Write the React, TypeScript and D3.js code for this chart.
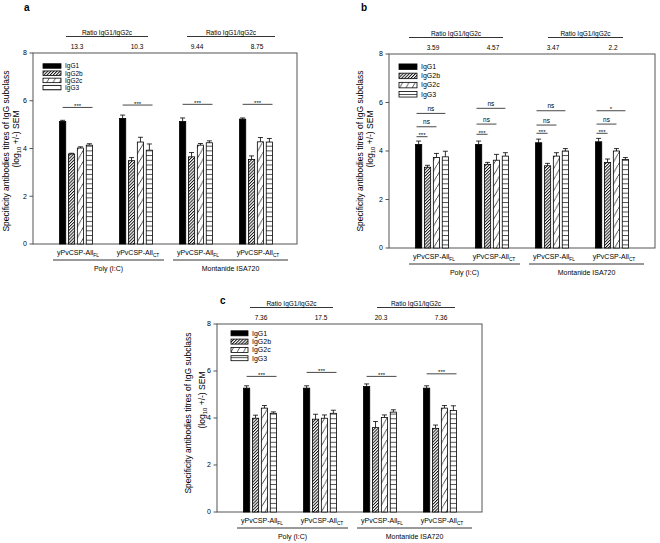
import React from "react";
import * as d3 from "d3";

const subclasses = ["IgG1", "IgG2b", "IgG2c", "IgG3"];
const groupKeys = ["PolyFL", "PolyCT", "MontFL", "MontCT"];
const groupSubs = ["FL", "CT", "FL", "CT"];
const adjuvants = ["Poly (I:C)", "Montanide ISA720"];
const yTicks = [0, 2, 4, 6, 8];
const ratioTitle = "Ratio IgG1/IgG2c";
const yLabel1 = "Specificity antibodies titres of IgG subclass";

// Panel a
const meansA = [
  [5.13, 3.77, 4.02, 4.14],
  [5.26, 3.49, 4.27, 3.93],
  [5.13, 3.65, 4.14, 4.24],
  [5.23, 3.54, 4.28, 4.27],
];
const semA = [
  [0.05, 0.03, 0.05, 0.06],
  [0.14, 0.13, 0.2, 0.26],
  [0.15, 0.18, 0.07, 0.08],
  [0.05, 0.15, 0.18, 0.15],
];
const ratiosA = ["13.3", "10.3", "9.44", "8.75"];
const sigA = [
  { g: 0, from: 0, to: 3, y: 5.72, label: "***" },
  { g: 1, from: 0, to: 3, y: 5.82, label: "***" },
  { g: 2, from: 0, to: 3, y: 5.85, label: "***" },
  { g: 3, from: 0, to: 3, y: 5.85, label: "***" },
];

// Panel b
const meansB = [
  [4.27, 3.33, 3.73, 3.76],
  [4.27, 3.45, 3.62, 3.79],
  [4.34, 3.39, 3.79, 4.0],
  [4.38, 3.53, 4.0, 3.65],
];
const semB = [
  [0.14, 0.08, 0.17, 0.23],
  [0.14, 0.08, 0.24, 0.14],
  [0.15, 0.1, 0.14, 0.1],
  [0.14, 0.14, 0.1, 0.08],
];
const ratiosB = ["3.59", "4.57", "3.47", "2.2"];
const sigB = [
  { g: 0, from: 0, to: 1, y: 4.59, label: "***" },
  { g: 0, from: 0, to: 2, y: 5.0, label: "ns" },
  { g: 0, from: 0, to: 3, y: 5.55, label: "ns" },
  { g: 1, from: 0, to: 1, y: 4.69, label: "***" },
  { g: 1, from: 0, to: 2, y: 5.11, label: "ns" },
  { g: 1, from: 0, to: 3, y: 5.76, label: "ns" },
  { g: 2, from: 0, to: 1, y: 4.73, label: "***" },
  { g: 2, from: 0, to: 2, y: 5.07, label: "ns" },
  { g: 2, from: 0, to: 3, y: 5.66, label: "ns" },
  { g: 3, from: 0, to: 1, y: 4.73, label: "***" },
  { g: 3, from: 0, to: 2, y: 5.11, label: "ns" },
  { g: 3, from: 0, to: 3, y: 5.66, label: "*" },
];

// Panel c
const meansC = [
  [5.27, 3.99, 4.42, 4.2],
  [5.27, 3.95, 3.99, 4.2],
  [5.34, 3.59, 4.02, 4.25],
  [5.27, 3.56, 4.42, 4.32],
];
const semC = [
  [0.1, 0.13, 0.11, 0.06],
  [0.1, 0.21, 0.14, 0.13],
  [0.11, 0.26, 0.11, 0.1],
  [0.1, 0.14, 0.11, 0.2],
];
const ratiosC = ["7.36", "17.5", "20.3", "7.36"];
const sigC = [
  { g: 0, from: 0, to: 3, y: 5.77, label: "***" },
  { g: 1, from: 0, to: 3, y: 5.94, label: "***" },
  { g: 2, from: 0, to: 3, y: 5.77, label: "***" },
  { g: 3, from: 0, to: 3, y: 5.88, label: "***" },
];

const FONT = "'Liberation Sans', Arial, sans-serif";
const fills = ["#000", "url(#p2b)", "url(#p2c)", "url(#p3)"];

type Cfg = {
  left: number; top: number; right: number; bottom: number;
  letter: string; letterX: number; letterY: number;
  spans: number[][];
  sigMode: "a" | "b";
  legend: { x: number; y: number; step: number; w: number; h: number; fs: number };
  yl: { x1: number; c1: number; x2: number; c2: number; fs: number };
};

const innerWidth = 33;
const x1 = d3.scaleBand<string>().domain(subclasses).range([0, innerWidth]).paddingInner(0.3).paddingOuter(0);
const bw = x1.bandwidth();

function Panel({ cfg, means, sems, ratios, sigs }: { cfg: Cfg; means: number[][]; sems: number[][]; ratios: string[]; sigs: any[] }) {
  const { left, top, right, bottom } = cfg;
  const y = d3.scaleLinear().domain([0, 8]).range([bottom, top]);
  const x0 = d3.scaleBand<string>().domain(groupKeys).range([left + 13, left + 253]).padding(0);
  const gc = (gi: number) => (x0(groupKeys[gi]) as number) + x0.bandwidth() / 2;
  const bx = (gi: number, si: number) => gc(gi) - innerWidth / 2 + (x1(subclasses[si]) as number);
  const axisColor = "#555";
  return (
    <g fontFamily={FONT}>
      <text x={cfg.letterX} y={cfg.letterY} fontSize={10} fontWeight="bold">{cfg.letter}</text>
      {/* ratio headers */}
      {cfg.spans.map((s, i) => (
        <g key={"h" + i}>
          <text x={left + (s[0] + s[1]) / 2} y={top - 18.5} fontSize={6.5} textAnchor="middle">{ratioTitle}</text>
          <line x1={left + s[0]} x2={left + s[1]} y1={top - 16.5} y2={top - 16.5} stroke="#000" strokeWidth={0.8} />
        </g>
      ))}
      {ratios.map((r, i) => (
        <text key={"r" + i} x={gc(i) + 1} y={top - 4.5} fontSize={6.5} textAnchor="middle">{r}</text>
      ))}
      {/* frame */}
      <rect x={left} y={top} width={right - left} height={bottom - top} fill="none" stroke={axisColor} strokeWidth={1} />
      {yTicks.map((t) => (
        <g key={"t" + t}>
          <line x1={left - 3.5} x2={left} y1={y(t)} y2={y(t)} stroke={axisColor} strokeWidth={1} />
          <text x={left - 6} y={y(t) + 2.4} fontSize={7} textAnchor="end">{t}</text>
        </g>
      ))}
      {/* y label */}
      <text transform={`translate(${cfg.yl.x1},${cfg.yl.c1}) rotate(-90)`} fontSize={cfg.yl.fs} textAnchor="middle">{yLabel1}</text>
      <text transform={`translate(${cfg.yl.x2},${cfg.yl.c2}) rotate(-90)`} fontSize={cfg.yl.fs} textAnchor="middle">
        (log<tspan fontSize={cfg.yl.fs * 0.7} dy={2}>10</tspan><tspan dy={-2}> +/-) SEM</tspan>
      </text>
      {/* bars */}
      {means.map((row, gi) =>
        row.map((m, si) => {
          const x = bx(gi, si);
          const cx = x + bw / 2;
          const e = sems[gi][si];
          return (
            <g key={`b${gi}-${si}`}>
              <line x1={cx} x2={cx} y1={y(m)} y2={y(m + e)} stroke="#000" strokeWidth={0.8} />
              <line x1={cx - 2.5} x2={cx + 2.5} y1={y(m + e)} y2={y(m + e)} stroke="#000" strokeWidth={0.8} />
              <rect x={x} y={y(m)} width={bw} height={y(0) - y(m)} fill={fills[si]} stroke="#000" strokeWidth={0.8} />
            </g>
          );
        })
      )}
      {/* significance */}
      {sigs.map((s, i) => {
        const xa = cfg.sigMode === "a" ? bx(s.g, s.from) + bw / 2 : bx(s.g, s.from) + 1;
        const xb = cfg.sigMode === "a" ? bx(s.g, s.to) + bw : bx(s.g, s.to) + bw / 2;
        const yy = y(s.y);
        const isStar = s.label.indexOf("*") >= 0;
        return (
          <g key={"s" + i}>
            <line x1={xa} x2={xb} y1={yy} y2={yy} stroke="#333" strokeWidth={0.9} />
            <text x={(xa + xb) / 2} y={isStar ? yy + 0.5 : yy - 2.5} fontSize={isStar ? 6 : 6.5} textAnchor="middle">{s.label}</text>
          </g>
        );
      })}
      {/* legend */}
      {subclasses.map((s, i) => {
        const L = cfg.legend;
        const cy = L.y + i * L.step;
        return (
          <g key={"l" + s}>
            <rect x={L.x} y={cy - L.h / 2} width={L.w} height={L.h} fill={fills[i]} stroke="#000" strokeWidth={0.8} />
            <text x={L.x + L.w + 4} y={cy + 2.3} fontSize={L.fs}>{s}</text>
          </g>
        );
      })}
      {/* x labels */}
      {groupKeys.map((g, gi) => (
        <text key={"x" + g} x={gc(gi) + 2} y={bottom + 11} fontSize={7} textAnchor="middle">
          yPvCSP-All<tspan fontSize={4.8} dy={1.5}>{groupSubs[gi]}</tspan>
        </text>
      ))}
      {adjuvants.map((a, ai) => {
        const xa = left + (ai === 0 ? 20 : 140);
        const xb = left + (ai === 0 ? 131 : 255);
        return (
          <g key={"a" + ai}>
            <line x1={xa} x2={xb} y1={bottom + 16} y2={bottom + 16} stroke="#000" strokeWidth={0.8} />
            <text x={(xa + xb) / 2} y={bottom + 26.5} fontSize={7} textAnchor="middle">{a}</text>
          </g>
        );
      })}
    </g>
  );
}

const cfgA: Cfg = {
  left: 33, top: 53, right: 297, bottom: 244, letter: "a", letterX: 24, letterY: 11,
  spans: [[33, 115], [154, 242]], sigMode: "a",
  legend: { x: 43, y: 66, step: 7.2, w: 18, h: 4.5, fs: 6.5 },
  yl: { x1: 9, c1: 151, x2: 19, c2: 139, fs: 8.5 },
};
const cfgB: Cfg = {
  left: 389, top: 54, right: 655, bottom: 248, letter: "b", letterX: 361, letterY: 11,
  spans: [[20, 114], [159, 234]], sigMode: "b",
  legend: { x: 399, y: 66.7, step: 9.2, w: 18, h: 5.5, fs: 7 },
  yl: { x1: 363, c1: 151, x2: 373, c2: 139, fs: 8.5 },
};
const cfgC: Cfg = {
  left: 217, top: 324, right: 482, bottom: 512, letter: "c", letterX: 220, letterY: 304,
  spans: [[33, 116], [160, 238]], sigMode: "a",
  legend: { x: 231, y: 333.3, step: 8.3, w: 17, h: 5, fs: 7 },
  yl: { x1: 191, c1: 413, x2: 205, c2: 400, fs: 8.5 },
};

export default function App() {
  return (
    <svg width={660} height={543} style={{ position: "absolute", left: 0, top: 0, background: "#fff" }}>
      <defs>
        <pattern id="p2b" patternUnits="userSpaceOnUse" width={2.2} height={2.2} patternTransform="rotate(45)">
          <rect width={2.2} height={2.2} fill="#fff" />
          <line x1={0.5} y1={0} x2={0.5} y2={2.2} stroke="#000" strokeWidth={0.9} />
        </pattern>
        <pattern id="p2c" patternUnits="userSpaceOnUse" width={bw} height={11}>
          <rect width={bw} height={11} fill="#fff" />
          <line x1={0} y1={11} x2={bw} y2={0} stroke="#000" strokeWidth={0.7} />
        </pattern>
        <pattern id="p3" patternUnits="userSpaceOnUse" width={4} height={4.7}>
          <rect width={4} height={4.7} fill="#fff" />
          <line x1={0} y1={0.5} x2={4} y2={0.5} stroke="#000" strokeWidth={0.7} />
        </pattern>
      </defs>
      <rect width={660} height={543} fill="#fff" />
      <Panel cfg={cfgA} means={meansA} sems={semA} ratios={ratiosA} sigs={sigA} />
      <Panel cfg={cfgB} means={meansB} sems={semB} ratios={ratiosB} sigs={sigB} />
      <Panel cfg={cfgC} means={meansC} sems={semC} ratios={ratiosC} sigs={sigC} />
    </svg>
  );
}
